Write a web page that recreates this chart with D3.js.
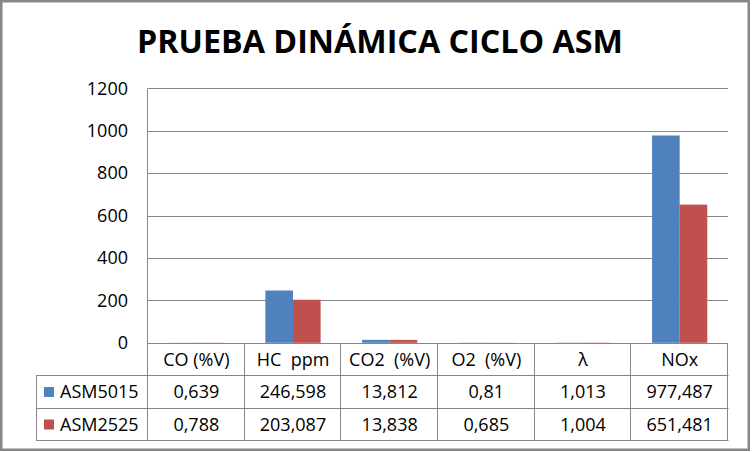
<!DOCTYPE html>
<html>
<head>
<meta charset="utf-8">
<script src="https://cdn.jsdelivr.net/npm/d3@7"></script>
<style>
  html, body { margin: 0; padding: 0; background: #fff; }
  svg { display: block; }
  text { white-space: pre; }
</style>
</head>
<body>
<script>
// ---- data ----
const title = "PRUEBA DINÁMICA CICLO ASM";
const categories = ["CO (%V)", "HC  ppm", "CO2  (%V)", "O2  (%V)", "λ", "NOx"];
const seriesNames = ["ASM5015", "ASM2525"];
const asm5015 = [0.639, 246.598, 13.812, 0.81, 1.013, 977.487];
const asm2525 = [0.788, 203.087, 13.838, 0.685, 1.004, 651.481];
const yTicks = [0, 200, 400, 600, 800, 1000, 1200];
const colors = ["#4F81BD", "#C0504D"];

const seriesValues = [asm5015, asm2525];
const W = 752, H = 452;
const FONT = "'Open Sans', 'Noto Sans', sans-serif";
const grid = "#868686";

const svg = d3.select("body").append("svg").attr("width", W).attr("height", H);

// outer border
svg.append("rect").attr("x", 1.25).attr("y", 1.25).attr("width", 747.5).attr("height", 448.5)
  .attr("fill", "#fff").attr("stroke", "#878787").attr("stroke-width", 2.5);

// title
const t = svg.append("text").attr("x", 380).attr("y", 52.5).attr("text-anchor", "middle")
  .attr("font-family", FONT).attr("font-weight", 700).attr("font-size", 32).attr("fill", "#000")
  .text(title);
t.attr("textLength", 486).attr("lengthAdjust", "spacingAndGlyphs");

// scales
const plotL = 148, plotR = 728;
const x = d3.scaleBand().domain(categories).range([plotL, plotR]).paddingInner(0).paddingOuter(0);
const y = d3.scaleLinear().domain([0, 1200]).range([342.8, 88.3]);
const bw = x.bandwidth();
const gap = bw * 1.5 / 3.5;
const xs = d3.scaleBand().domain(seriesNames).range([gap / 2, bw - gap / 2]);

const crisp = v => Math.round(v) + 0.5;

// gridlines
svg.append("g").selectAll("line").data(yTicks.filter(d => d > 0)).join("line")
  .attr("x1", plotL).attr("x2", plotR)
  .attr("y1", d => crisp(y(d))).attr("y2", d => crisp(y(d)))
  .attr("stroke", grid).attr("stroke-width", 1);

// y axis labels
const yAxis = d3.axisLeft(y).tickValues(yTicks).tickFormat(d3.format("d")).tickSize(0).tickPadding(20);
const ga = svg.append("g").attr("transform", `translate(${plotL},0)`).call(yAxis);
ga.select(".domain").remove();
ga.selectAll("text").attr("font-family", FONT).attr("font-size", 18).attr("fill", "#000");

// bars
const gBars = svg.append("g");
seriesNames.forEach((s, si) => {
  gBars.append("g").selectAll("rect").data(categories).join("rect")
    .attr("x", c => x(c) + xs(s))
    .attr("width", xs.bandwidth())
    .attr("y", (c, i) => y(seriesValues[si][i]))
    .attr("height", (c, i) => y(0) - y(seriesValues[si][i]))
    .attr("fill", colors[si]);
});

// data table
const rowTop = [crisp(y(0)), 375.5, 408.5, 440.5];
const tableL = 36.5;
const lines = svg.append("g").attr("stroke", grid).attr("stroke-width", 1);
lines.append("line").attr("x1", plotL).attr("x2", plotR).attr("y1", rowTop[0]).attr("y2", rowTop[0]);
[1, 2, 3].forEach(r => lines.append("line").attr("x1", tableL).attr("x2", plotR + 0.5).attr("y1", rowTop[r]).attr("y2", rowTop[r]));
lines.append("line").attr("x1", crisp(plotL) - 1).attr("x2", crisp(plotL) - 1).attr("y1", crisp(y(1200))).attr("y2", rowTop[3]);
categories.slice(1).concat(["__end"]).forEach((c, i) => {
  const xv = i < categories.length - 1 ? x(c) : plotR;
  lines.append("line").attr("x1", crisp(xv) - 1).attr("x2", crisp(xv) - 1).attr("y1", rowTop[0]).attr("y2", rowTop[3]);
});
lines.append("line").attr("x1", tableL).attr("x2", tableL).attr("y1", rowTop[1]).attr("y2", rowTop[3]);

const fmt = v => String(v).replace(".", ",");
const tg = svg.append("g").attr("font-family", FONT).attr("font-size", 18).attr("fill", "#000").attr("text-anchor", "middle");
tg.selectAll("text.h").data(categories).join("text").attr("class", "h")
  .attr("x", c => x(c) + bw / 2).attr("y", (rowTop[0] + rowTop[1]) / 2).attr("dy", "0.36em")
  .text(c => c);
seriesNames.forEach((s, si) => {
  const cy = (rowTop[si + 1] + rowTop[si + 2]) / 2;
  tg.append("g").selectAll("text").data(categories).join("text")
    .attr("x", c => x(c) + bw / 2).attr("y", cy).attr("dy", "0.36em")
    .text((c, i) => fmt(seriesValues[si][i]));
  svg.append("rect").attr("x", 44).attr("y", cy - 5).attr("width", 10).attr("height", 10).attr("fill", colors[si]);
  svg.append("text").attr("x", 60).attr("y", cy).attr("dy", "0.36em")
    .attr("font-family", FONT).attr("font-size", 18).attr("fill", "#000").text(s);
});
</script>
</body>
</html>
